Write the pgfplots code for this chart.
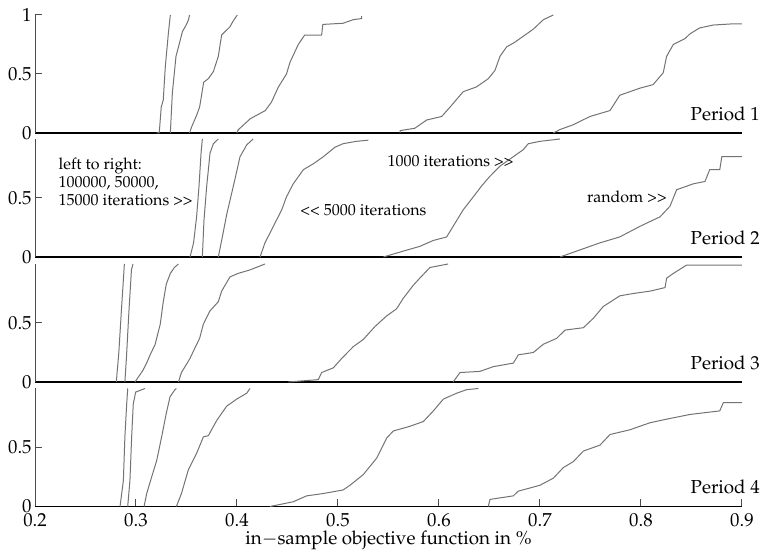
\documentclass[border=0pt]{standalone}
\usepackage[T1]{fontenc}
\usepackage{mathpazo}
\usepackage{pgfplots}
\pgfplotsset{compat=1.18}

\pgfplotsset{
  panel/.style={
    scale only axis, width=353.5pt, height=59pt,
    anchor=south west, clip=false,
    xmin=0.2, xmax=0.9, ymin=0, ymax=1,
    axis x line=bottom, axis y line=left,
    axis line style={-},
    x axis line style={line width=0.65pt, black},
    y axis line style={line width=0.5pt, black!70},
    ytick={0,0.5}, xtick=\empty,
    tick align=inside, major tick length=3.5pt,
    tick style={line width=0.5pt, black!70},
    ticklabel style={font=\fontsize{9.4}{11}\selectfont},
    yticklabel style={inner sep=1.5pt},
    every axis plot post/.append style={black!55, solid, line width=0.5pt, mark=none, line join=round},
  },
}

\begin{document}
\begin{tikzpicture}
\path[use as bounding box] (0,0) rectangle (381pt,277.5pt);

% Period 1
\begin{axis}[panel, at={(17.5pt,211pt)}, ytick={0,0.5,1}]
\addplot coordinates {(0.3205,0)(0.323,0)(0.325,0.22)(0.327,0.28)(0.329,0.56)(0.332,0.84)(0.334,1.0)};
\addplot coordinates {(0.334,0)(0.336,0.34)(0.3396,0.65)(0.343,0.76)(0.346,0.86)(0.350,0.92)(0.352,0.96)(0.353,1.0)};
\addplot coordinates {(0.353,0)(0.355,0.05)(0.360,0.15)(0.363,0.22)(0.367,0.43)(0.3716,0.46)(0.3766,0.52)(0.3815,0.65)(0.3848,0.83)(0.393,0.90)(0.3963,0.95)(0.4003,1.0)};
\addplot coordinates {(0.400,0)(0.401,0.025)(0.413,0.12)(0.428,0.19)(0.434,0.26)(0.441,0.39)(0.449,0.50)(0.4525,0.60)(0.4607,0.75)(0.467,0.83)(0.4838,0.83)(0.485,0.92)(0.505,0.93)(0.515,0.96)(0.5235,0.97)(0.5235,0.99)};
\addplot coordinates {(0.5614,0)(0.5614,0.02)(0.576,0.04)(0.5878,0.11)(0.6027,0.14)(0.611,0.22)(0.624,0.35)(0.637,0.39)(0.6488,0.46)(0.6554,0.53)(0.6604,0.65)(0.667,0.73)(0.6752,0.77)(0.6868,0.84)(0.6934,0.88)(0.7033,0.96)(0.7132,1.0)};
\addplot coordinates {(0.7132,0)(0.72,0.03)(0.733,0.07)(0.7495,0.14)(0.7693,0.19)(0.779,0.32)(0.799,0.38)(0.812,0.41)(0.822,0.51)(0.8254,0.65)(0.832,0.75)(0.8436,0.80)(0.8485,0.84)(0.858,0.89)(0.8716,0.915)(0.891,0.925)(0.9,0.925)};
\node[anchor=base east, inner sep=0pt, font=\fontsize{9.4}{11}\selectfont] at (axis cs:0.918,0.108) {Period 1};
\end{axis}

% Period 2
\begin{axis}[panel, at={(17.5pt,149pt)}]
\addplot coordinates {(0.3535,0)(0.357,0.12)(0.360,0.34)(0.3624,0.60)(0.3644,0.88)(0.3657,1.0)};
\addplot coordinates {(0.3657,0)(0.3673,0.31)(0.370,0.60)(0.3733,0.88)(0.3766,0.96)(0.3815,1.0)};
\addplot coordinates {(0.3815,0)(0.3848,0.14)(0.3898,0.36)(0.398,0.66)(0.403,0.85)(0.4096,0.95)(0.416,1.0)};
\addplot coordinates {(0.4228,0)(0.4277,0.12)(0.436,0.26)(0.4443,0.40)(0.449,0.51)(0.4557,0.62)(0.4657,0.74)(0.4756,0.79)(0.4855,0.85)(0.497,0.93)(0.505,0.96)(0.518,0.98)(0.530,0.99)};
\addplot coordinates {(0.545,0)(0.5647,0.05)(0.581,0.09)(0.5944,0.14)(0.6076,0.17)(0.614,0.26)(0.624,0.40)(0.634,0.51)(0.642,0.60)(0.650,0.68)(0.6604,0.77)(0.6736,0.85)(0.6835,0.91)(0.6884,0.96)(0.70,0.98)(0.7198,1.0)};
\addplot coordinates {(0.7198,0)(0.7396,0.06)(0.7594,0.12)(0.779,0.17)(0.799,0.26)(0.8188,0.34)(0.8287,0.43)(0.8353,0.57)(0.8518,0.62)(0.8634,0.64)(0.868,0.74)(0.878,0.74)(0.880,0.85)(0.9,0.85)};
\node[anchor=west, align=left, inner sep=0pt, font=\fontsize{8}{9.15}\selectfont] at (axis cs:0.2231,0.638) {left to right:\\100000, 50000,\\15000 iterations {>}{>}};
\node[anchor=west, inner sep=0pt, font=\fontsize{8}{9.15}\selectfont] at (axis cs:0.4624,0.40) {{<}{<} 5000 iterations};
\node[anchor=west, inner sep=0pt, font=\fontsize{8}{9.15}\selectfont] at (axis cs:0.5488,0.81) {1000 iterations {>}{>}};
\node[anchor=west, inner sep=0pt, font=\fontsize{8}{9.15}\selectfont] at (axis cs:0.7462,0.51) {random {>}{>}};
\node[anchor=base east, inner sep=0pt, font=\fontsize{9.4}{11}\selectfont] at (axis cs:0.918,0.108) {Period 2};
\end{axis}

% Period 3
\begin{axis}[panel, at={(17.5pt,86.5pt)}]
\addplot coordinates {(0.2805,0)(0.283,0.25)(0.2855,0.6)(0.2885,1.0)};
\addplot coordinates {(0.289,0)(0.2905,0.2)(0.293,0.6)(0.2955,0.95)(0.297,1.0)};
\addplot coordinates {(0.299,0)(0.303,0.05)(0.307,0.10)(0.311,0.17)(0.314,0.23)(0.319,0.32)(0.324,0.49)(0.327,0.68)(0.330,0.83)(0.334,0.92)(0.338,0.97)(0.342,1.0)};
\addplot coordinates {(0.342,0)(0.345,0.08)(0.3535,0.20)(0.3584,0.29)(0.363,0.37)(0.3667,0.49)(0.373,0.60)(0.3815,0.68)(0.3848,0.77)(0.393,0.89)(0.401,0.92)(0.4129,0.95)(0.4277,1.0)};
\addplot coordinates {(0.4508,0)(0.4805,0.02)(0.4838,0.08)(0.4954,0.12)(0.5037,0.20)(0.5152,0.30)(0.525,0.36)(0.5366,0.47)(0.5482,0.56)(0.558,0.62)(0.5647,0.71)(0.5746,0.82)(0.581,0.88)(0.591,0.97)(0.609,1.0)};
\addplot coordinates {(0.614,0)(0.6208,0.08)(0.6406,0.09)(0.6538,0.13)(0.6736,0.16)(0.6785,0.23)(0.6934,0.25)(0.7033,0.32)(0.7165,0.37)(0.7248,0.44)(0.743,0.46)(0.7528,0.54)(0.7627,0.64)(0.779,0.73)(0.7924,0.75)(0.809,0.77)(0.8238,0.80)(0.8254,0.88)(0.832,0.92)(0.845,0.99)(0.9,0.99)};
\node[anchor=base east, inner sep=0pt, font=\fontsize{9.4}{11}\selectfont] at (axis cs:0.918,0.108) {Period 3};
\end{axis}

% Period 4
\begin{axis}[panel, at={(17.5pt,24.25pt)},
  xtick={0.2,0.3,0.4,0.5,0.6,0.7,0.8,0.9},
  xticklabel style={/pgf/number format/fixed, /pgf/number format/precision=1}]
\addplot coordinates {(0.2842,0)(0.2875,0.22)(0.289,0.59)(0.2908,0.87)(0.2918,1.0)};
\addplot coordinates {(0.2918,0)(0.294,0.22)(0.2957,0.59)(0.2973,0.87)(0.2997,0.97)(0.309,1.0)};
\addplot coordinates {(0.308,0)(0.3106,0.11)(0.3155,0.25)(0.3205,0.39)(0.3254,0.59)(0.330,0.79)(0.3337,0.93)(0.3386,0.99)(0.340,1.0)};
\addplot coordinates {(0.340,0)(0.345,0.11)(0.3518,0.31)(0.360,0.45)(0.3667,0.59)(0.3716,0.60)(0.380,0.73)(0.3898,0.85)(0.3997,0.91)(0.4096,0.96)(0.4129,1.0)};
\addplot coordinates {(0.4327,0)(0.4557,0.04)(0.469,0.09)(0.4855,0.11)(0.505,0.14)(0.5119,0.18)(0.525,0.27)(0.5383,0.41)(0.5482,0.58)(0.5548,0.64)(0.5713,0.68)(0.5845,0.72)(0.5944,0.81)(0.6043,0.91)(0.6175,0.96)(0.6274,0.99)(0.639,1.0)};
\addplot coordinates {(0.6488,0)(0.6505,0.06)(0.6736,0.09)(0.6785,0.13)(0.70,0.18)(0.7132,0.24)(0.7231,0.33)(0.733,0.38)(0.743,0.47)(0.7594,0.52)(0.7693,0.61)(0.789,0.65)(0.809,0.71)(0.8254,0.74)(0.8485,0.78)(0.878,0.81)(0.8815,0.88)(0.9,0.88)};
\node[anchor=base east, inner sep=0pt, font=\fontsize{9.4}{11}\selectfont] at (axis cs:0.918,0.108) {Period 4};
\node[anchor=base, inner sep=0pt, yshift=-19.25pt, font=\fontsize{9.4}{11}\selectfont] at (axis cs:0.55,0) {in$-$sample objective function in \%};
\end{axis}
\end{tikzpicture}
\end{document}
